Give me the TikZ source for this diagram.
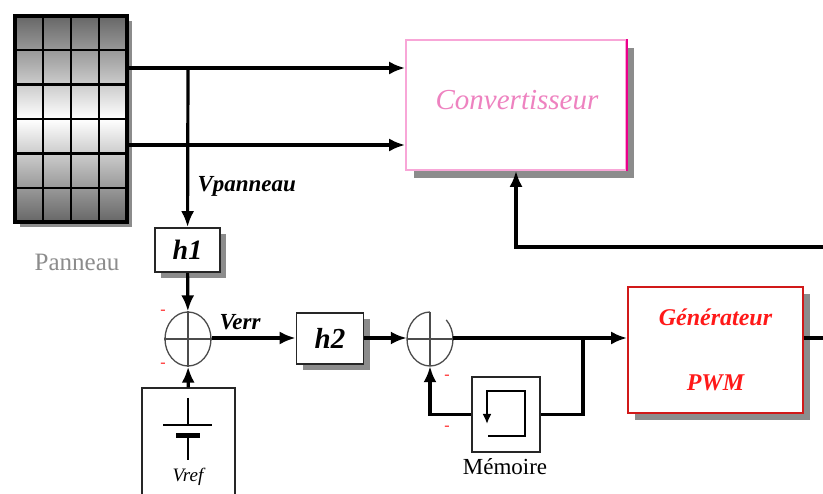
\documentclass[tikz,border=0pt]{standalone}
\usepackage{fontspec}
\setmainfont{Liberation Serif}
\usepackage{tikz}
\usetikzlibrary{shapes,arrows.meta,calc}
\colorlet{box shadow}{black!45}
\colorlet{conv edge}{magenta!35}
\definecolor{conv text}{RGB}{238,130,192}
\colorlet{pwm edge}{red!80!black!90}
\tikzset{block/.style={draw=black!85, line width=1.6pt, fill=white, inner sep=0pt},
    shadowed/.style={preaction={fill=box shadow, transform canvas={xshift=#1, yshift=-#1}}},
    shadowed/.default=6pt,
    wire/.style={line width=3.2pt},
    signal/.style={wire, -{Latex[length=16pt,width=13pt]}},
    summer/.style={ellipse, minimum width=46pt, minimum height=54pt, inner sep=0pt},
    crossline/.style={draw=black!70, line width=1.3pt},
    lbl/.style={font=\fontsize{23}{26}\selectfont\bfseries\itshape},
    minus/.style={text=red!85, font=\fontsize{16}{18}\selectfont, inner sep=0pt}}

\begin{document}
\begin{tikzpicture}[x=1pt, y=-1pt]
    \clip (0,0) rectangle (823,494);
    \fill[white] (0,0) rectangle (823,494);

    % panneau
    \node[minimum width=112pt, minimum height=206pt, shadowed=5pt] (panel) at (71,119) {};
    \shade[top color=black!60, bottom color=white] (panel.north west) rectangle (panel.east);
    \shade[top color=white, bottom color=black!60] (panel.west) rectangle (panel.south east);
    \foreach \i in {1,2,3}
        \draw[line width=2.5pt] ($(panel.north west)!\i/4!(panel.north east)$) -- ($(panel.south west)!\i/4!(panel.south east)$);
    \foreach \i in {1,...,5}
        \draw[line width=2.5pt] ($(panel.north west)!\i/6!(panel.south west)$) -- ($(panel.north east)!\i/6!(panel.south east)$);
    \draw[line width=3.5pt] (panel.north west) rectangle (panel.south east);
    \node[text=black!45, font=\fontsize{25}{28}\selectfont] (panneau) at (77,262) {Panneau};

    % blocs
    \node[block, draw=conv edge, minimum width=220pt, minimum height=130pt, shadowed=8pt] (conv) at (516,105) {};
    \draw[magenta, line width=2pt] (conv.north east) -- (conv.south east);
    \node[text=conv text, font=\fontsize{29}{32}\selectfont\itshape] (convlbl) at (517,100) {Convertisseur};
    \node[block, minimum width=65pt, minimum height=44pt, shadowed, font=\fontsize{28}{30}\selectfont\bfseries\itshape] (h1) at (187.5,250) {h1};
    \node[block, minimum width=67pt, minimum height=51pt, shadowed, font=\fontsize{29}{30}\selectfont\bfseries\itshape] (h2) at (330,338.5) {h2};
    \node[block, draw=pwm edge, minimum width=175pt, minimum height=126pt, shadowed=7pt, align=center,
        text=red!90, font=\fontsize{24}{65}\selectfont\bfseries\itshape] (pwm) at (715.5,350) {G\'en\'erateur\\PWM};
    \node[block, line width=2.2pt, minimum width=68pt, minimum height=75pt] (mem) at (506,414.5) {};
    \node[font=\fontsize{23}{26}\selectfont] (memlbl) at (505,467) {M\'emoire};
    \node[draw=black!85, line width=1.2pt, minimum width=93pt, minimum height=130pt] (vref) at (188.5,453) {};

    % sommateurs
    \node[summer, crossline] (sum1) at (188,339) {};
    \draw[crossline] (sum1.north) -- (sum1.south) (sum1.west) -- (sum1.east);
    \node[summer] (sum2) at (430,339) {};
    \draw[crossline] ([yshift=27pt]sum2.center) arc[start angle=90, end angle=405, x radius=23pt, y radius=27pt];
    \draw[crossline] (sum2.north) -- (sum2.south) (sum2.west) -- (sum2.east);
    \node[minus] (m1) at (163,312) {-};
    \node[minus] (m2) at (163,365) {-};
    \node[minus] (m3) at (447,377) {-};
    \node[minus] (m4) at (447,428) {-};

    % source de reference
    \draw[line width=1.3pt] (188,398) -- (188,425) (163,425) -- (212,425) (188,436) -- (188,460);
    \draw[line width=5pt] (176,436) -- (200,436);
    \node[font=\fontsize{19}{20}\selectfont\itshape] (vreflbl) at (188,477) {Vref};

    % memoire
    \draw[line width=2.5pt, -{Latex[length=10pt,width=9pt]}] (488,436) -- (525,436) -- (525,391) -- (487,391) -- (487,424);

    % liaisons
    \coordinate (tap) at (188,68);
    \coordinate (split) at (583,338);
    \coordinate (out) at (830,338);
    \coordinate (fb) at (830,247);
    \draw[signal] (panel.east |- tap) -- (conv.west |- tap);
    \draw[signal] (panel.east |- 0,145) -- (conv.west |- 0,145);
    \draw[signal] (tap) -- (h1);
    \node[lbl, anchor=west] (vpan) at (194,186) {Vpanneau};
    \draw[signal] (h1) -- (sum1);
    \draw[signal] (vref) -- (sum1);
    \draw[signal] (sum1.east |- split) -- (h2.west |- split);
    \node[lbl] (verr) at (240,322) {Verr};
    \draw[signal] (h2.east |- split) -- (sum2.west |- split);
    \draw[signal] (sum2.east |- split) -- (pwm.west |- split);
    \draw[wire] (split) |- (mem);
    \draw[signal] (mem) -| (sum2);
    \draw[wire] (pwm.east |- out) -- (out);
    \draw[signal] (fb) -| (conv);
\end{tikzpicture}
\end{document}
